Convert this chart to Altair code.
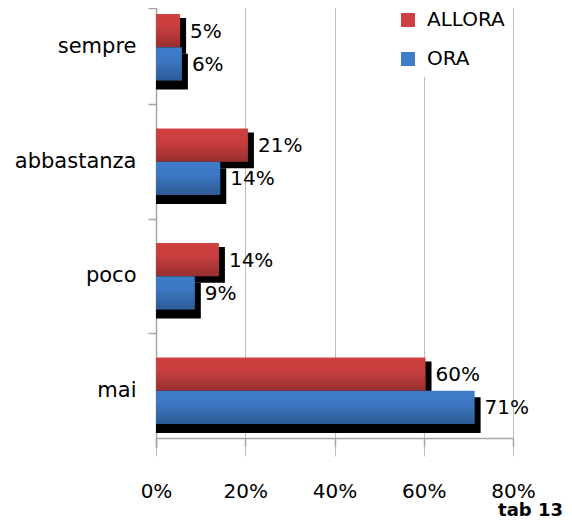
import altair as alt
import pandas as pd

categories = ["sempre", "abbastanza", "poco", "mai"]
series = ["ALLORA", "ORA"]
allora = [5.4, 20.6, 14.1, 60.4]
ora = [5.8, 14.4, 8.7, 71.4]
x_ticks = [0, 20, 40, 60, 80]
colors = ["#d04040", "#3e7cca"]

rows = []
for c, a, o in zip(categories, allora, ora):
    rows.append({"cat": c, "serie": series[0], "val": a})
    rows.append({"cat": c, "serie": series[1], "val": o})
df = pd.DataFrame(rows)

FONT = "DejaVu Sans"
AXC = "#a6a6a6"

y_enc = alt.Y(
    "cat:N",
    sort=categories,
    scale=alt.Scale(domain=categories, range=[-18, 440], paddingInner=0, paddingOuter=0),
    axis=alt.Axis(
        title=None, bandPosition=0, tickExtra=True, labelFontSize=21, labelFont=FONT,
        labelColor="black", tickSize=8, labelPadding=12, domainColor=AXC, tickColor=AXC,
        domainWidth=1.5, tickWidth=1.5, grid=False, labelAlign="right",
    ),
)
x_enc = alt.X(
    "val:Q",
    stack=None,
    scale=alt.Scale(domain=[0, 80]),
    axis=alt.Axis(
        title=None, values=x_ticks, labelExpr="datum.value + '%'", labelFontSize=20,
        labelFont=FONT, labelColor="black", tickSize=8, labelPadding=35, labelFlush=False,
        domainColor=AXC, tickColor=AXC, domainWidth=1.5, tickWidth=1.5, grid=True,
        gridColor="#bdbdbd", gridWidth=1,
    ),
)


def yoff(r, kind="band"):
    if kind == "band":
        sc = alt.Scale(type="band", domain=series, range=r, paddingInner=0, paddingOuter=0)
    else:
        sc = alt.Scale(type="point", domain=series, range=r, padding=0)
    return alt.YOffset("serie:N", sort=series, scale=sc)


base = alt.Chart(df)

shadow = base.mark_bar(color="black", xOffset=6, x2Offset=4).encode(
    x=x_enc, y=y_enc, yOffset=yoff([28, 99.5])
)

bars = base.mark_bar(opacity=1).encode(
    x=x_enc, y=y_enc, yOffset=yoff([24, 90.5]),
    color=alt.Color(
        "serie:N",
        scale=alt.Scale(domain=series, range=colors),
        legend=alt.Legend(
            title=None, orient="none", legendX=234, legendY=-6, symbolType="square",
            symbolSize=196, labelFontSize=20, labelFont=FONT, labelColor="black",
            rowPadding=19, padding=8, fillColor="white", labelOffset=9,
            symbolStrokeWidth=0, symbolOpacity=1,
        ),
    ),
)

grad = alt.LinearGradient(
    gradient="linear", x1=0, y1=0, x2=0, y2=1,
    stops=[
        alt.GradientStop(offset=0, color="rgba(0,0,0,0)"),
        alt.GradientStop(offset=0.4, color="rgba(0,0,0,0.04)"),
        alt.GradientStop(offset=1, color="rgba(0,0,0,0.27)"),
    ],
)
shade = base.mark_bar(color=grad).encode(
    x=x_enc, y=y_enc, yOffset=yoff([24, 90.5])
)

labels = base.transform_calculate(
    label="round(datum.val) + '%'"
).mark_text(
    align="left", baseline="middle", dx=10, dy=1, fontSize=20, font=FONT, color="black"
).encode(
    x=x_enc, y=y_enc, yOffset=yoff([40.6, 73.9], "point"), text="label:N"
)

chart = (
    alt.layer(shadow, bars, shade, labels)
    .resolve_scale(yOffset="independent")
    .properties(
        width=357,
        height=430,
        autosize=alt.AutoSizeParams(type="none"),
        padding={"left": 148, "top": 0, "right": 51, "bottom": 84},
        background="white",
        title=alt.TitleParams(
            "tab 13", orient="bottom", anchor="end", frame="group", fontSize=18,
            fontWeight="bold", font=FONT, dx=50, offset=1, color="black",
        ),
    )
    .configure_view(stroke=None)
)

chart.save("out.html", embed_options={"renderer": "svg", "actions": False})
